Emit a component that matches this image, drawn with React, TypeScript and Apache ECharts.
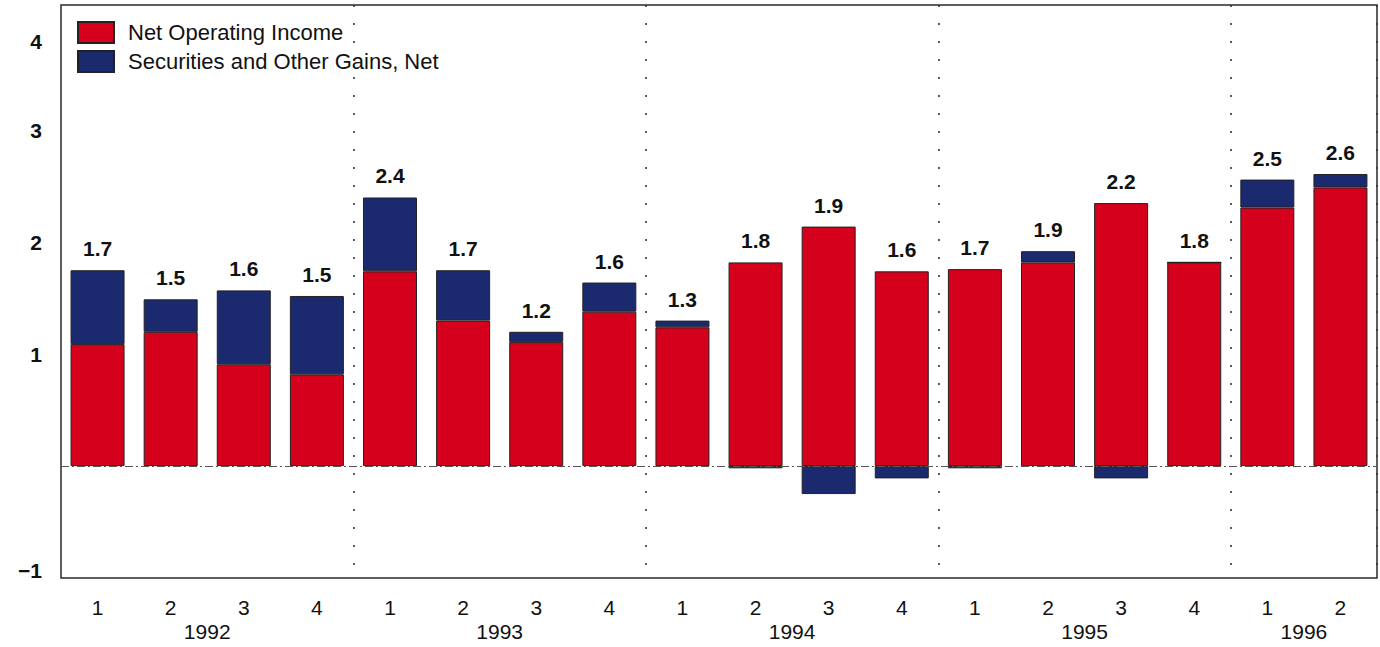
import React, { useEffect, useRef } from "react";
import * as echarts from "echarts";

const quarters = ["1", "2", "3", "4", "1", "2", "3", "4", "1", "2", "3", "4", "1", "2", "3", "4", "1", "2"];
const netOperatingIncome = [1.09, 1.2, 0.91, 0.82, 1.74, 1.3, 1.11, 1.38, 1.24, 1.82, 2.14, 1.74, 1.76, 1.82, 2.35, 1.82, 2.31, 2.49];
const securitiesGains = [0.66, 0.29, 0.66, 0.7, 0.66, 0.45, 0.09, 0.26, 0.06, -0.02, -0.25, -0.11, -0.02, 0.1, -0.11, 0, 0.25, 0.12];
const totalLabels = ["1.7", "1.5", "1.6", "1.5", "2.4", "1.7", "1.2", "1.6", "1.3", "1.8", "1.9", "1.6", "1.7", "1.9", "2.2", "1.8", "2.5", "2.6"];
const years = ["1992", "1993", "1994", "1995", "1996"];
const yearCenters = [2, 6, 10, 14, 17];
const yearBoundaries = [4, 8, 12, 16];

const RED = "#d5001c";
const BLUE = "#1b2a6e";
const FONT = "Liberation Sans";
const TEXT = "#111111";

export default function App() {
  const ref = useRef<HTMLDivElement>(null);

  useEffect(() => {
    if (!ref.current) return;
    const chart = echarts.init(ref.current, undefined, { renderer: "svg" });

    const labelTops = netOperatingIncome.map((r, i) => r + Math.max(securitiesGains[i], 0));

    const option: any = {
      animation: false,
      backgroundColor: "#ffffff",
      textStyle: { fontFamily: FONT },
      grid: {
        left: 61,
        right: 3,
        top: 5,
        bottom: 69,
        show: true,
        borderColor: "#2a2a2a",
        borderWidth: 1.5,
        backgroundColor: "transparent",
      },
      legend: {
        orient: "vertical",
        left: 72,
        top: 16,
        icon: "rect",
        itemWidth: 36,
        itemHeight: 21,
        itemGap: 6,
        data: ["Net Operating Income", "Securities and Other Gains, Net"],
        textStyle: { fontFamily: FONT, fontSize: 22, color: TEXT, padding: [0, 0, 0, 9] },
      },
      xAxis: [
        {
          type: "category",
          data: quarters,
          position: "bottom",
          axisLine: { show: false },
          axisTick: { show: false },
          axisLabel: { fontFamily: FONT, fontSize: 21, color: TEXT, margin: 19 },
          splitLine: {
            show: true,
            interval: (index: number) => yearBoundaries.indexOf(index) >= 0,
            lineStyle: { color: "#333", width: 1.6, type: [2, 16] },
          },
        },
        {
          type: "value",
          min: 0,
          max: quarters.length,
          position: "bottom",
          offset: 24,
          axisLine: { show: false },
          axisTick: { show: false },
          splitLine: { show: false },
          axisLabel: {
            customValues: yearCenters,
            fontFamily: FONT,
            fontSize: 21,
            color: TEXT,
            margin: 19,
            formatter: (v: number) => {
              const i = yearCenters.indexOf(v);
              return i >= 0 ? years[i] : "";
            },
          },
        },
      ],
      yAxis: {
        type: "value",
        min: -1,
        max: 4.12,
        interval: 1,
        axisLine: { show: false },
        axisTick: { show: false },
        splitLine: { show: false },
        axisLabel: {
          fontFamily: FONT,
          fontSize: 21,
          fontWeight: "bold",
          color: TEXT,
          margin: 19,
          showMaxLabel: false,
          formatter: (v: number) => {
            if (v === 0) return "";
            if (v === 4) return "{four|4}";
            if (v === -1) return "{neg|\u22121}";
            return String(v);
          },
          rich: {
            four: { fontFamily: FONT, fontSize: 21, fontWeight: "bold", color: TEXT, padding: [46, 0, 0, 0] },
            neg: { fontFamily: FONT, fontSize: 21, fontWeight: "bold", color: TEXT, padding: [0, 0, 16, 0] },
          },
        },
      },
      series: [
        {
          name: "zero",
          type: "line",
          data: quarters.map(() => null),
          z: 1,
          silent: true,
          markLine: {
            silent: true,
            symbol: "none",
            label: { show: false },
            lineStyle: { color: "#555", width: 1, type: [8, 3, 2, 3] },
            data: [{ yAxis: 0 }],
          },
        },
        {
          name: "Net Operating Income",
          type: "bar",
          stack: "total",
          barWidth: 54,
          z: 3,
          data: netOperatingIncome,
          itemStyle: { color: RED, borderColor: "#222", borderWidth: 1 },
        },
        {
          name: "Securities and Other Gains, Net",
          type: "bar",
          stack: "total",
          barWidth: 54,
          z: 3,
          data: securitiesGains,
          itemStyle: { color: BLUE, borderColor: "#222", borderWidth: 1 },
        },
        {
          name: "labels",
          type: "scatter",
          symbolSize: 0,
          z: 5,
          silent: true,
          itemStyle: { opacity: 1 },
          data: labelTops,
          label: {
            show: true,
            position: "top",
            distance: 11,
            fontFamily: FONT,
            fontSize: 21,
            fontWeight: "bold",
            color: TEXT,
            formatter: (p: any) => totalLabels[p.dataIndex],
          },
        },
      ],
    };

    chart.setOption(option);
    return () => chart.dispose();
  }, []);

  return (
    <div
      ref={ref}
      style={{ position: "fixed", left: 0, top: 0, width: 1380, height: 647, background: "#fff" }}
    />
  );
}
